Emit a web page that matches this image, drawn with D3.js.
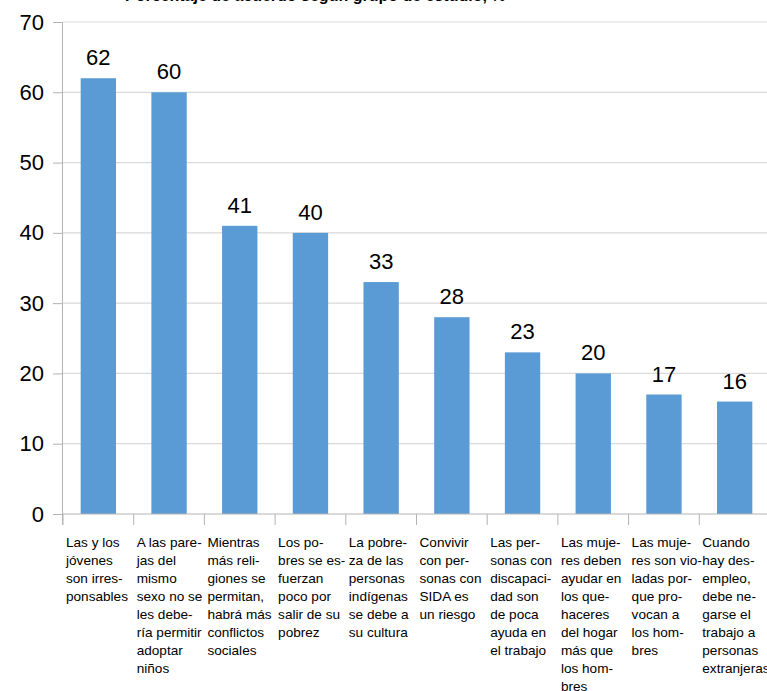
<!DOCTYPE html>
<html>
<head>
<meta charset="utf-8">
<script src="https://cdn.jsdelivr.net/npm/d3@7"></script>
<style>
  body { margin: 0; background: #fff; }
  svg { font-family: "Liberation Sans", Arial, sans-serif; }
</style>
</head>
<body>
<script>
const title = 'Porcentaje de acuerdo según grupo de estudio, %'
const values = [62, 60, 41, 40, 33, 28, 23, 20, 17, 16]
const labels = [
  ['Las y los', 'jóvenes', 'son irres-', 'ponsables'],
  ['A las pare-', 'jas del', 'mismo', 'sexo no se', 'les debe-', 'ría permitir', 'adoptar', 'niños'],
  ['Mientras', 'más reli-', 'giones se', 'permitan,', 'habrá más', 'conflictos', 'sociales'],
  ['Los po-', 'bres se es-', 'fuerzan', 'poco por', 'salir de su', 'pobrez'],
  ['La pobre-', 'za de las', 'personas', 'indígenas', 'se debe a', 'su cultura'],
  ['Convivir', 'con per-', 'sonas con', 'SIDA es', 'un riesgo'],
  ['Las per-', 'sonas con', 'discapaci-', 'dad son', 'de poca', 'ayuda en', 'el trabajo'],
  ['Las muje-', 'res deben', 'ayudar en', 'los que-', 'haceres', 'del hogar', 'más que', 'los hom-', 'bres'],
  ['Las muje-', 'res son vio-', 'ladas por-', 'que pro-', 'vocan a', 'los hom-', 'bres'],
  ['Cuando', 'hay des-', 'empleo,', 'debe ne-', 'garse el', 'trabajo a', 'personas', 'extranjeras']
]
const yTicks = [0, 10, 20, 30, 40, 50, 60, 70]

const width = 767
const height = 691
const margin = {top: 22, left: 63, bottom: 177}
const plotRight = 770

const svg = d3.select('body').append('svg')
  .attr('width', width)
  .attr('height', height)

const x = d3.scaleBand()
  .domain(d3.range(values.length))
  .range([margin.left, plotRight])
  .paddingInner(0.5)
  .paddingOuter(0.25)

const y = d3.scaleLinear()
  .domain([0, 70])
  .range([height - margin.bottom, margin.top])

// title (cut off at the top in the original)
svg.append('text')
  .attr('x', 125)
  .attr('y', 1)
  .attr('font-size', 16)
  .attr('font-weight', 'bold')
  .text(title)

// gridlines
svg.append('g')
  .selectAll('line')
  .data(yTicks.slice(1))
  .enter()
  .append('line')
  .attr('x1', margin.left)
  .attr('x2', width)
  .attr('y1', d => y(d))
  .attr('y2', d => y(d))
  .attr('stroke', '#d9d9d9')
  .attr('stroke-width', 1.2)

// bars
svg.append('g')
  .selectAll('rect')
  .data(values)
  .enter()
  .append('rect')
  .attr('x', (d, i) => x(i))
  .attr('y', d => y(d))
  .attr('width', x.bandwidth())
  .attr('height', d => y(0) - y(d))
  .attr('fill', '#5b9bd5')

// value labels
svg.append('g')
  .selectAll('text')
  .data(values)
  .enter()
  .append('text')
  .attr('x', (d, i) => x(i) + x.bandwidth() / 2)
  .attr('y', d => y(d) - 13)
  .attr('text-anchor', 'middle')
  .attr('font-size', 22)
  .attr('fill', '#000')
  .text(d => d)

// y axis
const yAxis = d3.axisLeft(y)
  .tickValues(yTicks)
  .tickSize(10)
  .tickPadding(9)
const gy = svg.append('g')
  .attr('transform', `translate(${margin.left},0)`)
  .call(yAxis)
gy.select('.domain').attr('stroke', '#b3b3b3').attr('d', `M-0.5,${y(70)}V${y(0) + 11}`)
gy.selectAll('.tick line').attr('stroke', '#b3b3b3')
gy.selectAll('.tick text')
  .attr('font-size', 22)
  .attr('font-family', '"Liberation Sans", Arial, sans-serif')
  .attr('fill', '#000')

// x axis baseline and category separators
const step = x.step()
const bounds = d3.range(values.length + 1).map(i => margin.left + i * step)
svg.append('line')
  .attr('x1', margin.left)
  .attr('x2', width)
  .attr('y1', y(0))
  .attr('y2', y(0))
  .attr('stroke', '#b3b3b3')
  .attr('stroke-width', 1.2)
svg.append('g')
  .selectAll('line')
  .data(bounds)
  .enter()
  .append('line')
  .attr('x1', d => d)
  .attr('x2', d => d)
  .attr('y1', y(0))
  .attr('y2', y(0) + 11)
  .attr('stroke', '#b3b3b3')

// category labels
const cat = svg.append('g')
  .selectAll('text')
  .data(labels)
  .enter()
  .append('text')
  .attr('x', (d, i) => bounds[i] + 3)
  .attr('y', 547)
  .attr('font-size', 13.6)
  .attr('fill', '#000')
cat.selectAll('tspan')
  .data(d => d)
  .enter()
  .append('tspan')
  .attr('x', function () { return this.parentNode.getAttribute('x') })
  .attr('dy', (d, i) => i === 0 ? 0 : 18)
  .text(d => d)
</script>
</body>
</html>
